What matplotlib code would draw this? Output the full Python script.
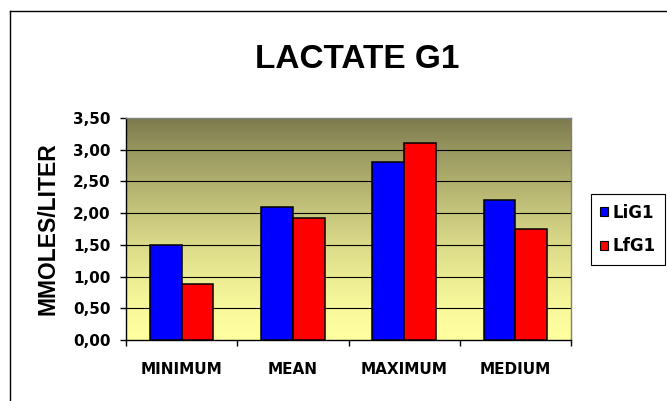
import numpy as np
import matplotlib
matplotlib.use("Agg")
import matplotlib.pyplot as plt
from matplotlib.patches import Patch
from matplotlib.lines import Line2D

categories = ["MINIMUM", "MEAN", "MAXIMUM", "MEDIUM"]
series_names = ["LiG1", "LfG1"]
lig1 = [1.50, 2.10, 2.80, 2.20]
lfg1 = [0.88, 1.92, 3.10, 1.75]
yticks = [0.0, 0.5, 1.0, 1.5, 2.0, 2.5, 3.0, 3.5]
colors = ["#0000FF", "#FF0000"]

fig = plt.figure(figsize=(6.67, 4.01), dpi=100)
ax = fig.add_axes([126 / 667, 1 - 340 / 401, 445 / 667, 222 / 401])

# gradient plot background: dark olive at top -> pale yellow at bottom
top = np.array([124, 123, 78]) / 255
bot = np.array([255, 255, 160]) / 255
t = np.linspace(0, 1, 256)[:, None] ** 1.5
grad = bot + (top - bot) * t
ax.imshow(grad[:, None, :], extent=[-0.5, 3.5, 0, 3.5], origin="lower",
          aspect="auto", zorder=0)

x = np.arange(len(categories))
w = 0.285
ax.bar(x - w / 2, lig1, w, color=colors[0], edgecolor="black", lw=1.1, zorder=3)
ax.bar(x + w / 2, lfg1, w, color=colors[1], edgecolor="black", lw=1.1, zorder=3)

ax.set_xlim(-0.5, 3.5)
ax.set_ylim(0, 3.5)
for yv in yticks[1:-1]:
    ax.axhline(yv, color="black", lw=0.8, zorder=1)

ax.set_yticks(yticks)
ax.set_yticklabels([f"{v:.2f}".replace(".", ",") for v in yticks],
                   fontsize=11, fontweight="bold", family="DejaVu Sans")
ax.tick_params(axis="y", direction="out", length=4, width=1, pad=7)
ax.set_xticks(x)
ax.set_xticklabels(categories, fontsize=11, fontweight="bold", family="DejaVu Sans")
ax.set_xticks(np.arange(-0.5, 4.0, 1.0), minor=True)
ax.tick_params(axis="x", which="major", length=0, pad=16)
ax.tick_params(axis="x", which="minor", direction="out", length=4, width=1)

ax.spines["left"].set_color("black")
ax.spines["bottom"].set_color("black")
ax.spines["top"].set_color("#808080")
ax.spines["right"].set_color("#808080")
for s in ax.spines.values():
    s.set_linewidth(1)

ax.set_ylabel("MMOLES/LITER", fontsize=16.5, fontweight="bold",
              family="Liberation Sans", labelpad=10)

fig.text(357 / 667, 1 - 60 / 401, "LACTATE G1", fontsize=24, fontweight="bold",
         family="Liberation Sans", ha="center", va="center")

handles = [Patch(facecolor=c, edgecolor="black", lw=0.8) for c in colors]
leg = fig.legend(handles, series_names, loc="center",
                 bbox_to_anchor=(628 / 667, 1 - 229.5 / 401),
                 prop={"family": "DejaVu Sans", "weight": "bold", "size": 12},
                 handlelength=0.45, handleheight=0.45, handletextpad=0.3,
                 labelspacing=0.95, borderpad=0.55, fancybox=False,
                 edgecolor="black", framealpha=1)
leg.get_frame().set_linewidth(0.8)

# outer chart border (cropped at right/bottom)
fig.add_artist(Line2D([10 / 667, 10 / 667], [0, 1 - 11 / 401], color="black",
                      lw=1, transform=fig.transFigure))
fig.add_artist(Line2D([10 / 667, 1], [1 - 11 / 401, 1 - 11 / 401], color="black",
                      lw=1, transform=fig.transFigure))

fig.savefig("out.png", dpi=100)
